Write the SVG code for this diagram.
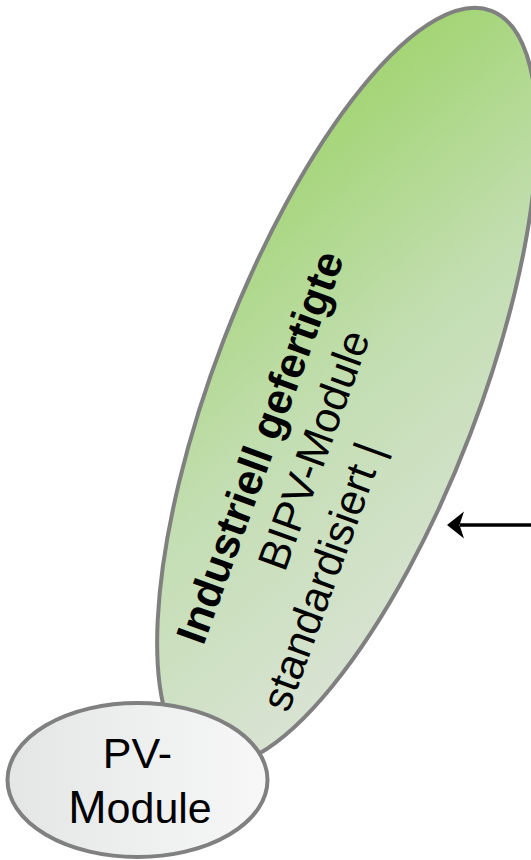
<svg xmlns="http://www.w3.org/2000/svg" width="531" height="860" viewBox="0 0 531 860">
  <defs>
    <linearGradient id="greenFill" gradientUnits="userSpaceOnUse" x1="180" y1="690" x2="520" y2="90">
      <stop offset="0" stop-color="#e3e5e3"/>
      <stop offset="0.5" stop-color="#c3deb2"/>
      <stop offset="1" stop-color="#93d056"/>
    </linearGradient>
    <linearGradient id="greyFill" gradientUnits="userSpaceOnUse" x1="10" y1="780" x2="265" y2="780">
      <stop offset="0" stop-color="#e4e6e6"/>
      <stop offset="1" stop-color="#f7f7f7"/>
    </linearGradient>
    <style>
      .shape { stroke: #808080; stroke-width: 4; }
      .label { font-family: "Liberation Sans", Arial, sans-serif; font-size: 43px; fill: #000; }
      .bold { font-weight: bold; }
      .wire { stroke: #000; stroke-width: 3.5; fill: none; }
      .head { fill: #000; }
    </style>
  </defs>

  <!-- large tilted ellipse: industrial BIPV modules -->
  <g id="node-bipv">
    <ellipse class="shape" cx="347" cy="387" rx="403" ry="132" transform="rotate(-69 347 387)" fill="url(#greenFill)"/>
    <g transform="rotate(-70)">
      <text class="label bold" x="-538" y="412">Industriell gefertigte</text>
      <text class="label" x="-441" y="463.5">BIPV-Module</text>
      <text class="label" x="-572" y="515">standardisiert |</text>
    </g>
  </g>

  <!-- small ellipse: PV modules -->
  <g id="node-pv">
    <ellipse class="shape" cx="137.5" cy="780" rx="130" ry="77" fill="url(#greyFill)"/>
    <text class="label" x="137.5" y="768" text-anchor="middle" font-size="41">PV-</text>
    <text class="label" x="140" y="823" text-anchor="middle" font-size="42"><tspan font-size="46">M</tspan>odule</text>
  </g>

  <!-- connectors -->
  <g id="connectors">
    <line class="wire" x1="531" y1="525" x2="460" y2="525"/>
    <path class="head" d="M447,525 L464,511.5 L459.5,525 L464,538.5 Z"/>
  </g>
</svg>
